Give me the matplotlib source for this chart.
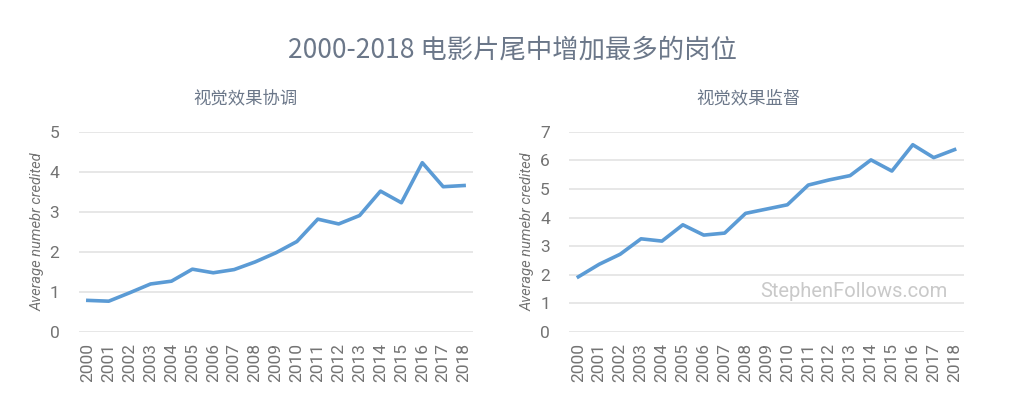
import matplotlib
matplotlib.use("Agg")
import matplotlib.pyplot as plt

plt.rcParams['font.family'] = ['Noto Sans CJK SC', 'DejaVu Sans']

years = list(range(2000, 2019))
coord_vals = [0.79, 0.77, 0.98, 1.20, 1.27, 1.57, 1.48, 1.56, 1.75, 1.98,
              2.26, 2.82, 2.70, 2.91, 3.52, 3.23, 4.23, 3.63, 3.66]
super_vals = [1.93, 2.37, 2.72, 3.26, 3.18, 3.75, 3.39, 3.46, 4.15, 4.30,
              4.45, 5.14, 5.32, 5.47, 6.02, 5.63, 6.55, 6.10, 6.38]

title = '2000-2018 电影片尾中增加最多的岗位'
sub_left = '视觉效果协调'
sub_right = '视觉效果监督'
ylab = 'Average numebr credited'

line_col = '#5b9bd5'
grid_col = '#e3e3e3'
tick_col = '#737373'
title_col = '#6b7789'

fig = plt.figure(figsize=(10.24, 4.2), dpi=100)
ax1 = fig.add_axes([0.077, 0.2095, 0.385, 0.4765])
ax2 = fig.add_axes([0.556, 0.2095, 0.385, 0.4765])


def style(ax, vals, ymax):
    ax.plot(years, vals, color=line_col, lw=2.6, solid_joinstyle='round')
    ax.set_xlim(2000 - 0.43, 2018 + 0.43)
    ax.set_ylim(0, ymax)
    ax.set_yticks(range(0, ymax + 1))
    ax.set_xticks(years)
    ax.set_xticklabels([str(y) for y in years], rotation=90)
    ax.grid(axis='y', color=grid_col, lw=1.2)
    ax.set_axisbelow(True)
    for s in ax.spines.values():
        s.set_visible(False)
    ax.tick_params(length=0, colors=tick_col, labelsize=12.5, pad=8)
    ax.tick_params(axis='y', pad=14)
    for lab in ax.get_xticklabels() + ax.get_yticklabels():
        lab.set_family('Roboto')
    ax.set_ylabel(ylab, style='italic', color=tick_col, fontsize=10.5,
                  family='Roboto', labelpad=4)


style(ax1, coord_vals, 5)
style(ax2, super_vals, 7)

ax2.text(0.96, 0.2, 'StephenFollows.com', transform=ax2.transAxes,
         ha='right', va='center', color='#c9c9c9', fontsize=14.5,
         family='Roboto')

fig.text(0.5, 0.88, title, ha='center', va='center', fontsize=19,
         color=title_col)
fig.text(0.24, 0.765, sub_left, ha='center', va='center', fontsize=12.5,
         color=title_col)
fig.text(0.731, 0.765, sub_right, ha='center', va='center', fontsize=12.5,
         color=title_col)

fig.savefig('out.png', dpi=100, facecolor='white')
